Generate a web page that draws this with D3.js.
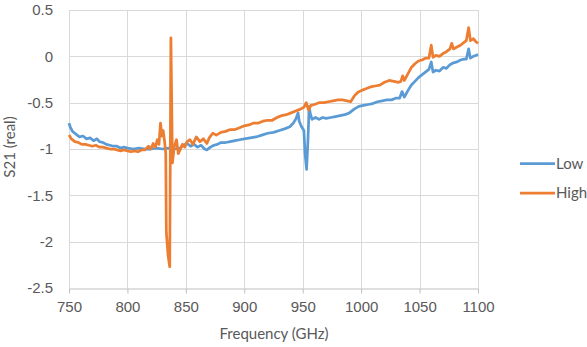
<!DOCTYPE html>
<html>
<head>
<meta charset="utf-8">
<script src="https://cdn.jsdelivr.net/npm/d3@7"></script>
<style>
  body { margin: 0; background: #fff; }
  svg { font-family: Lato, "Open Sans", sans-serif; }
</style>
</head>
<body>
<div id="chart"></div>
<script>
// readings: [frequency GHz, S21 real]
const lowSeries = [
  [750,-0.72],[751,-0.76],[753,-0.81],[755,-0.83],[757,-0.85],[759,-0.87],[762,-0.86],[765,-0.89],
  [768,-0.88],[771,-0.91],[774,-0.89],[776,-0.92],[779,-0.93],[782,-0.95],[785,-0.96],[788,-0.97],
  [791,-0.97],[794,-0.99],[797,-0.98],[800,-0.99],[805,-1.00],[810,-0.99],[815,-1.00],[820,-1.00],
  [825,-0.99],[830,-1.00],[835,-0.99],[840,-1.00],[845,-0.99],[848,-0.96],[851,-0.94],[854,-0.97],
  [857,-0.95],[860,-0.98],[863,-0.96],[866,-1.00],[868,-1.01],[871,-0.98],[874,-0.96],[877,-0.95],
  [880,-0.93],[884,-0.93],[888,-0.92],[892,-0.91],[896,-0.90],[900,-0.89],[905,-0.88],[910,-0.87],
  [915,-0.85],[920,-0.83],[925,-0.82],[930,-0.80],[935,-0.78],[939,-0.76],[942,-0.72],[944,-0.68],
  [946,-0.61],[947,-0.70],[949,-0.76],[951,-0.80],[952,-1.05],[953.3,-1.22],[954.5,-0.90],[955.5,-0.54],
  [956.5,-0.62],[958,-0.68],[961,-0.66],[964,-0.68],[967,-0.66],[970,-0.67],[974,-0.66],[978,-0.65],
  [982,-0.64],[986,-0.63],[990,-0.61],[994,-0.57],[998,-0.54],[1002,-0.53],[1006,-0.52],[1010,-0.51],
  [1014,-0.49],[1018,-0.48],[1022,-0.47],[1026,-0.47],[1030,-0.45],[1033,-0.45],[1035,-0.38],[1037,-0.44],
  [1040,-0.37],[1043,-0.31],[1046,-0.27],[1049,-0.23],[1052,-0.20],[1055,-0.17],[1058,-0.14],[1060,-0.06],
  [1061.5,-0.17],[1064,-0.15],[1067,-0.16],[1070,-0.12],[1073,-0.13],[1076,-0.09],[1079,-0.07],[1082,-0.06],
  [1085,-0.04],[1088,-0.03],[1090,-0.03],[1092,0.08],[1093.5,-0.02],[1096,0.00],[1098,0.01],[1100,0.02]
];

const highSeries = [
  [750,-0.85],[752,-0.89],[755,-0.92],[758,-0.93],[761,-0.95],[764,-0.95],[767,-0.96],[770,-0.97],
  [773,-0.96],[776,-0.98],[779,-0.98],[782,-0.99],[785,-1.00],[788,-1.00],[791,-1.01],[794,-1.02],
  [797,-1.01],[800,-1.02],[803,-1.03],[806,-1.02],[809,-1.03],[812,-1.01],[815,-1.01],[818,-0.97],
  [820,-1.00],[822,-0.94],[824,-0.98],[825.5,-0.90],[827,-0.95],[828.3,-0.72],[829.5,-0.86],[830.6,-0.80],
  [831.8,-0.92],[832.8,-1.05],[833.3,-1.90],[834.8,-2.15],[836.2,-2.27],[837.2,0.20],[838.5,-1.15],[840,-0.98],
  [842,-0.90],[843.5,-1.05],[845,-1.01],[847,-0.95],[849,-0.98],[851,-0.92],[853.5,-0.90],[856,-0.95],
  [859,-0.87],[862,-0.92],[865,-0.89],[868,-0.94],[870,-0.88],[873,-0.83],[876,-0.85],[880,-0.82],
  [884,-0.81],[888,-0.79],[892,-0.79],[896,-0.77],[900,-0.75],[904,-0.74],[908,-0.72],[912,-0.72],
  [916,-0.70],[920,-0.69],[924,-0.69],[928,-0.66],[932,-0.64],[936,-0.63],[940,-0.61],[944,-0.59],
  [948,-0.57],[951,-0.55],[953,-0.50],[955,-0.58],[957,-0.53],[960,-0.52],[964,-0.50],[968,-0.50],
  [972,-0.49],[976,-0.48],[980,-0.47],[984,-0.47],[988,-0.48],[991,-0.49],[994,-0.43],[997,-0.39],
  [1000,-0.37],[1004,-0.35],[1008,-0.33],[1012,-0.32],[1016,-0.31],[1020,-0.28],[1024,-0.26],[1028,-0.27],
  [1032,-0.28],[1034,-0.27],[1035.5,-0.21],[1037,-0.26],[1040,-0.19],[1043,-0.12],[1046,-0.08],[1049,-0.05],
  [1052,-0.04],[1055,-0.02],[1058,-0.02],[1060,0.12],[1061.5,-0.01],[1064,0.01],[1067,0.00],[1070,0.03],
  [1073,0.05],[1076,0.08],[1077.5,0.14],[1079,0.08],[1082,0.10],[1085,0.12],[1088,0.15],[1090,0.17],
  [1092,0.31],[1093.5,0.17],[1096,0.19],[1098,0.16],[1100,0.14]
];

const xTicks = [750, 800, 850, 900, 950, 1000, 1050, 1100];
const yTicks = [0.5, 0, -0.5, -1, -1.5, -2, -2.5];
const seriesNames = ['Low', 'High'];
const seriesColors = ['#5B9BD5', '#ED7D31'];

const width = 587;
const height = 347;
const margin = { top: 10, right: 109, bottom: 59, left: 69 };

const svg = d3.select('#chart')
  .append('svg')
  .attr('width', width)
  .attr('height', height);

const x = d3.scaleLinear()
  .domain([750, 1100])
  .range([margin.left, width - margin.right]);

const y = d3.scaleLinear()
  .domain([-2.5, 0.5])
  .range([height - margin.bottom, margin.top]);

const fmt = d => String(d).replace('\u2212', '-');

// gridlines
svg.append('g')
  .attr('stroke', '#D9D9D9')
  .attr('stroke-width', 1)
  .selectAll('line.h')
  .data(yTicks.filter(d => d !== -2.5))
  .join('line')
  .attr('x1', x(750)).attr('x2', x(1100))
  .attr('y1', d => Math.round(y(d)) + 0.5).attr('y2', d => Math.round(y(d)) + 0.5);

svg.append('g')
  .attr('stroke', '#D9D9D9')
  .attr('stroke-width', 1)
  .selectAll('line.v')
  .data(xTicks)
  .join('line')
  .attr('x1', d => Math.round(x(d)) + 0.5).attr('x2', d => Math.round(x(d)) + 0.5)
  .attr('y1', y(0.5)).attr('y2', y(-2.5));

// x axis
const xAxis = svg.append('g')
  .attr('transform', `translate(0,${Math.round(y(-2.5)) + 0.5})`)
  .call(d3.axisBottom(x).tickValues(xTicks).tickSize(5).tickSizeOuter(0).tickFormat(fmt));
xAxis.select('.domain').attr('stroke', '#BFBFBF');
xAxis.selectAll('.tick line').attr('stroke', '#BFBFBF');
xAxis.selectAll('.tick text')
  .attr('fill', '#595959')
  .attr('font-size', 15)
  .attr('dy', '1.0em');

// y axis labels
const yAxis = svg.append('g')
  .attr('transform', `translate(${margin.left},0)`)
  .call(d3.axisLeft(y).tickValues(yTicks).tickSize(0).tickFormat(fmt));
yAxis.select('.domain').remove();
yAxis.selectAll('.tick text')
  .attr('fill', '#595959')
  .attr('font-size', 15)
  .attr('x', -16);

// axis titles
svg.append('text')
  .attr('x', 274)
  .attr('y', 339)
  .attr('text-anchor', 'middle')
  .attr('fill', '#595959')
  .attr('font-size', 15)
  .text('Frequency (GHz)');

svg.append('text')
  .attr('transform', 'translate(15,147) rotate(-90)')
  .attr('text-anchor', 'middle')
  .attr('fill', '#595959')
  .attr('font-size', 15)
  .text('S21 (real)');

// lines
const line = d3.line()
  .x(d => x(d[0]))
  .y(d => y(d[1]));

[lowSeries, highSeries].forEach((s, i) => {
  svg.append('path')
    .datum(s)
    .attr('fill', 'none')
    .attr('stroke', seriesColors[i])
    .attr('stroke-width', 2.75)
    .attr('stroke-linejoin', 'round')
    .attr('d', line);
});

// legend
const legend = svg.append('g')
  .selectAll('g')
  .data(seriesNames)
  .join('g')
  .attr('transform', (d, i) => `translate(520,${163.5 + i * 29.5})`);

legend.append('line')
  .attr('x1', 0).attr('x2', 35)
  .attr('stroke', (d, i) => seriesColors[i])
  .attr('stroke-width', 2.75);

legend.append('text')
  .attr('x', 36)
  .attr('dy', '0.35em')
  .attr('fill', '#595959')
  .attr('font-size', 15)
  .text(d => d);
</script>
</body>
</html>
